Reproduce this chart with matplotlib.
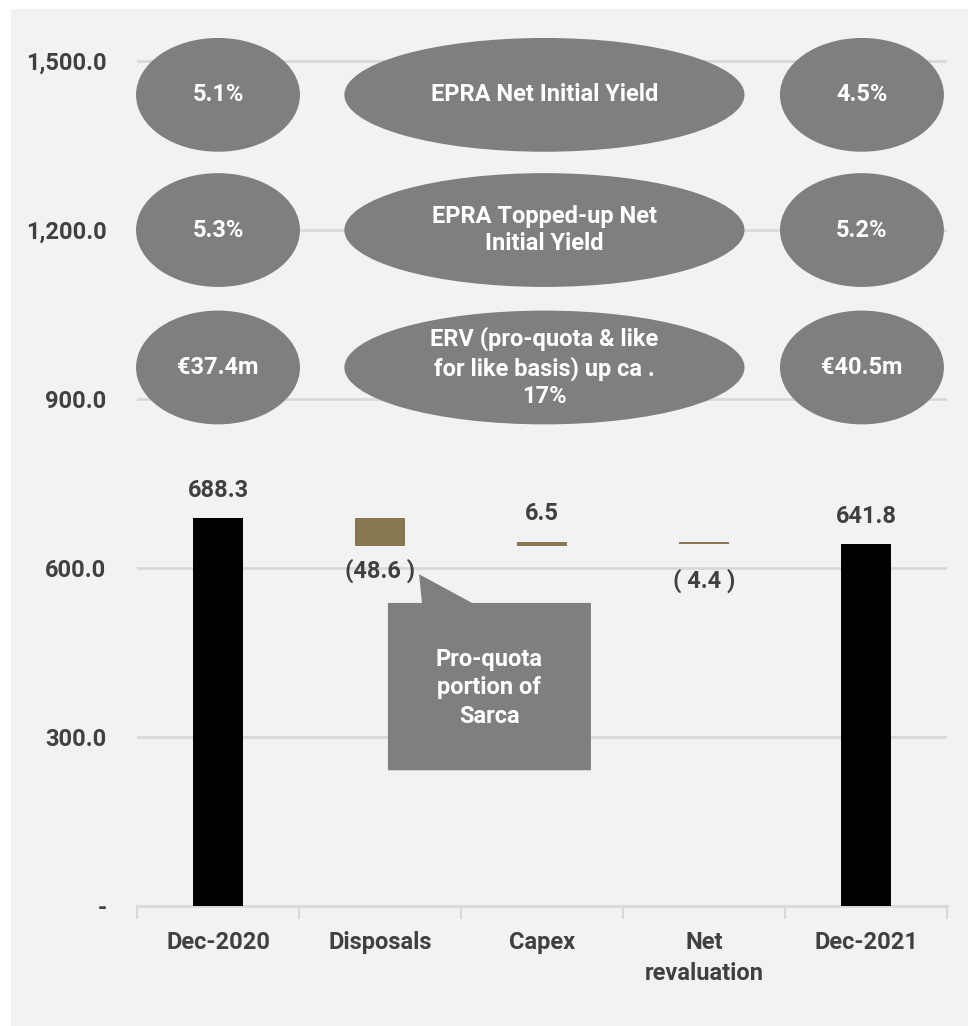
import matplotlib
matplotlib.use("Agg")
import matplotlib.pyplot as plt
from matplotlib.patches import Ellipse, Polygon, Rectangle

# --- data -----------------------------------------------------------------
categories = ["Dec-2020", "Disposals", "Capex", "Net\nrevaluation", "Dec-2021"]
opening_value = 688.3
movements = [-48.6, 6.5, -4.4]
closing_value = 641.8
value_labels = ["688.3", "(48.6 )", "6.5", "( 4.4 )", "641.8"]

kpi_names = ["EPRA Net Initial Yield",
             "EPRA Topped-up Net\nInitial Yield",
             "ERV (pro-quota & like\nfor like basis) up ca .\n17%"]
kpi_2020 = ["5.1%", "5.3%", "€37.4m"]
kpi_2021 = ["4.5%", "5.2%", "€40.5m"]

yticks = [0, 300, 600, 900, 1200, 1500]
ytick_labels = ["-", "300.0", "600.0", "900.0", "1,200.0", "1,500.0"]

callout_text = "Pro-quota\nportion of\nSarca"

# --- style ----------------------------------------------------------------
plt.rcParams["font.family"] = ["Roboto", "DejaVu Sans"]
TEXT = "#404040"
GRID = "#d9d9d9"
PANEL = "#f2f2f2"
ELL = "#7f7f7f"
TOTAL_C = "#000000"
MOVE_C = "#877650"
FS = 17

W, H = 968, 1026
fig = plt.figure(figsize=(W / 100, H / 100), dpi=100)
fig.patch.set_facecolor("white")
fig.patches.append(Rectangle((11 / W, 0), 1 - 11 / W, 1 - 9 / H,
                             transform=fig.transFigure, facecolor=PANEL,
                             edgecolor="none", zorder=-10))

# axes: x from 137 to 947 px, y=0 at 906 px, 0.5633 px per unit
px_per_unit = 0.5633
ymax = 1600
y0_px = 906
ax = fig.add_axes([137 / W, (H - y0_px) / H, (947 - 137) / W,
                   ymax * px_per_unit / H])
ax.set_facecolor("none")
ax.set_xlim(-0.5, 4.5)
ax.set_ylim(0, ymax)

for s in ["top", "right", "left"]:
    ax.spines[s].set_visible(False)
ax.spines["bottom"].set_color(GRID)
ax.spines["bottom"].set_linewidth(2)

ax.set_yticks(yticks)
ax.set_yticklabels(ytick_labels, fontsize=FS, fontweight="bold", color=TEXT)
ax.tick_params(axis="y", length=0, pad=22)
for y in yticks[1:]:
    ax.axhline(y, color=GRID, lw=2, zorder=1)

ax.set_xticks(range(len(categories)))
ax.set_xticklabels(categories, fontsize=FS, fontweight="bold", color=TEXT,
                   linespacing=1.42)
ax.tick_params(axis="x", length=0, pad=18)
# category separators on the baseline
ax.set_xticks([i - 0.5 for i in range(len(categories) + 1)], minor=True)
ax.tick_params(axis="x", which="minor", length=9, width=1.5, color=GRID)

# --- waterfall bars ---------------------------------------------------------
bw = 0.31
ax.bar(0, opening_value, width=bw, color=TOTAL_C, zorder=3)
running = opening_value
bottoms, tops = [0], [opening_value]
for i, mv in enumerate(movements, start=1):
    lo, hi = sorted([running, running + mv])
    ax.bar(i, hi - lo, bottom=lo, width=bw, color=MOVE_C, zorder=3)
    bottoms.append(lo)
    tops.append(hi)
    running += mv
ax.bar(4, closing_value, width=bw, color=TOTAL_C, zorder=3)
bottoms.append(0)
tops.append(closing_value)

signs = [1] + [1 if m > 0 else -1 for m in movements] + [1]
below_offsets = {1: 9, 3: 17}
for i, (lab, sg) in enumerate(zip(value_labels, signs)):
    if sg > 0:
        ax.annotate(lab, (i, tops[i]), xytext=(0, 12), textcoords="offset points",
                    ha="center", va="bottom", fontsize=FS, fontweight="bold",
                    color=TEXT, zorder=5)
    else:
        ax.annotate(lab, (i, bottoms[i]), xytext=(0, -below_offsets[i]),
                    textcoords="offset points", ha="center", va="top",
                    fontsize=FS, fontweight="bold", color=TEXT, zorder=5)

# --- KPI ellipses -------------------------------------------------------------
row_y = [1440, 1200, 956]
ell_h = 202
for ry, name, a, b in zip(row_y, kpi_names, kpi_2020, kpi_2021):
    for cx, w, txt in [(0.0, 1.012, a), (2.015, 2.47, name), (3.975, 1.012, b)]:
        ax.add_patch(Ellipse((cx, ry), w, ell_h, facecolor=ELL,
                             edgecolor="none", zorder=4, clip_on=False))
        ax.text(cx, ry, txt, ha="center", va="center", fontsize=FS,
                fontweight="bold", color="white", linespacing=1.25, zorder=5)

# --- callout box ----------------------------------------------------------------
x_l, x_r = 1.049, 2.302
y_t, y_b = 538, 241
tip = (1.241, 589)
callout = Polygon([(x_l, y_t), (1.259, y_t), tip, (1.568, y_t), (x_r, y_t),
                   (x_r, y_b), (x_l, y_b)], closed=True, facecolor=ELL,
                  edgecolor="none", zorder=4)
ax.add_patch(callout)
ax.text((x_l + x_r) / 2, (y_t + y_b) / 2 - 2, callout_text, ha="center",
        va="center", fontsize=FS, fontweight="bold", color="white",
        linespacing=1.3, zorder=5)

fig.savefig("out.png", dpi=100, facecolor=fig.get_facecolor())
